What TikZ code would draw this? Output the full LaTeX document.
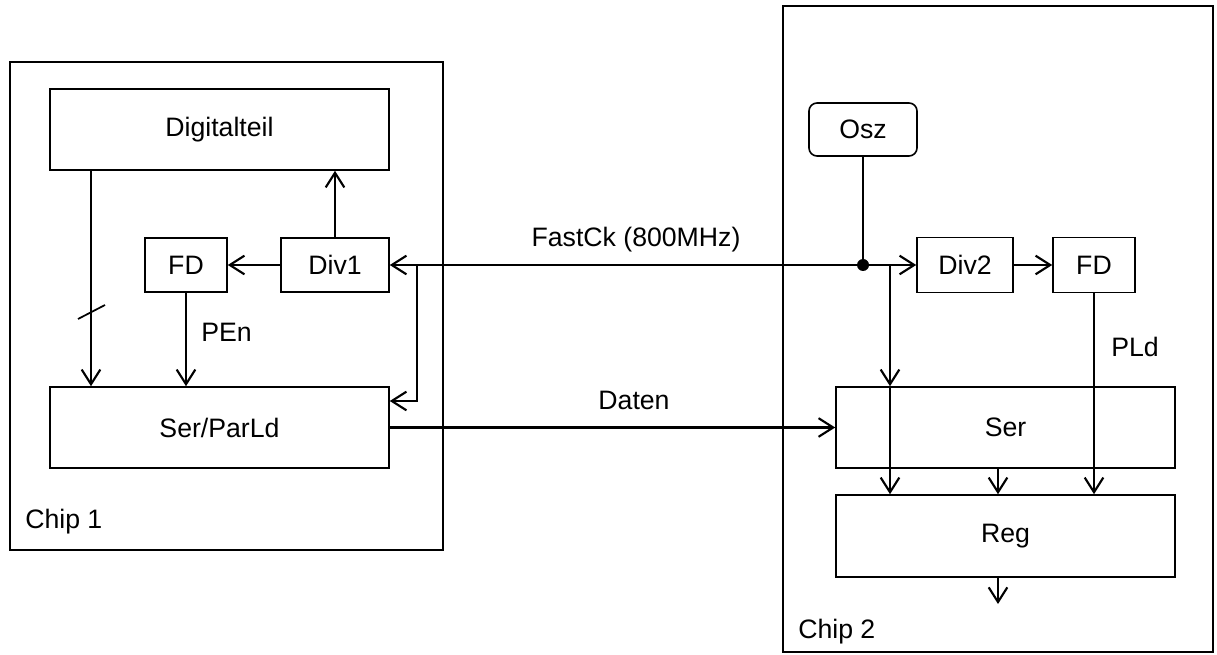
\documentclass[tikz,border=0pt]{standalone}
\usepackage{fontspec}
\setmainfont{Liberation Sans}
\usetikzlibrary{arrows.meta,calc,positioning}
\tikzset{
  >={Straight Barb[length=11pt,width=14pt]},
  % Bloecke
  wh/.style 2 args={minimum width=#1*0.75pt,minimum height=#2*0.75pt},
  chip/.style={draw,line width=1.2pt,inner sep=0pt},
  blk/.style={draw,line width=1.2pt,inner sep=0pt},
  osc/.style={blk,rounded corners=6pt},
  % Leitungen
  sig/.style={->,line width=1.6pt},
  wire/.style={line width=1.6pt},
  lbl/.style={inner sep=0pt},
}

\begin{document}
\begin{tikzpicture}[x=0.75pt,y=-0.75pt,every node/.append style={font=\fontsize{20}{24}\selectfont}]
  \useasboundingbox (0,0) rectangle (1217,655);
  % Chip 1
  \node[chip,wh={433}{488}] (chipA) at (226.5,306) {};
  \node[lbl,anchor=west] (chipAl) at (25,522) {Chip 1};
  \node[blk,wh={339}{81}] (digi) at (219.5,129.5) {Digitalteil};
  \node[blk,wh={82}{54}] (fdA) at (186,265) {FD};
  \node[blk,wh={108}{54}] (divA) at (335,265) {Div1};
  \node[blk,wh={339}{81}] (serpar) at (219.5,427.5) {Ser/ParLd};
  % Chip 2
  \node[chip,wh={430}{646}] (chipB) at (998,329) {};
  \node[lbl,anchor=west] (chipBl) at (798,632) {Chip 2};
  \node[osc,wh={108}{53}] (osz) at (863,129.5) {Osz};
  \node[blk,wh={96}{55}] (divB) at (965,265) {Div2};
  \node[blk,wh={82}{55}] (fdB) at (1094,265) {FD};
  \node[blk,wh={339}{81}] (ser) at (1005.5,427.5) {Ser};
  \node[blk,wh={339}{82}] (reg) at (1005.5,536) {Reg};
  % Beschriftungen
  \node[lbl] (fastck) at (636,240) {FastCk (800MHz)};
  \node[lbl] (daten) at (634,400) {Daten};
  \node[lbl,anchor=west] (pen) at (201,332) {PEn};
  \node[lbl,anchor=west] (pld) at (1111,347) {PLd};
  % Hilfspunkte
  \coordinate (jn) at (863,265);
  \coordinate (kn) at (417,265);
  \coordinate (mn) at (890,265);
  \coordinate (bx) at (91,0);
  \coordinate (rx) at (998,0);
  \coordinate (out) at (998,604);
  % Chip 1
  \draw[sig] (bx|-digi.south) -- (bx|-serpar.north);
  \draw[wire,line width=1.3pt] (91,312) ++(-13,7) -- ++(27,-14);
  \draw[sig] (divA.north) -- (divA.north|-digi.south);
  \draw[sig] (divA) -- (fdA);
  \draw[sig] (fdA) -- (fdA|-serpar.north);
  \draw[sig] (kn) |- ($(serpar.east)+(0,-26.5)$);
  % Takt
  \draw[wire] (osz) -- (jn);
  \draw[sig] (jn) -- (divA.east);
  \draw[sig] (jn) -- (divB.west);
  \fill (jn) circle[radius=4.5pt];
  % Daten
  \draw[sig] (serpar.east) -- (serpar.east-|ser.west);
  % Chip 2
  \draw[sig] (divB) -- (fdB);
  \draw[sig] (mn) -- (mn|-ser.north);
  \draw[sig] (mn|-ser.north) -- (mn|-reg.north);
  \draw[sig] (fdB) -- (fdB|-reg.north);
  \draw[sig] (rx|-ser.south) -- (rx|-reg.north);
  \draw[sig] (rx|-reg.south) -- (out);
\end{tikzpicture}
\end{document}
